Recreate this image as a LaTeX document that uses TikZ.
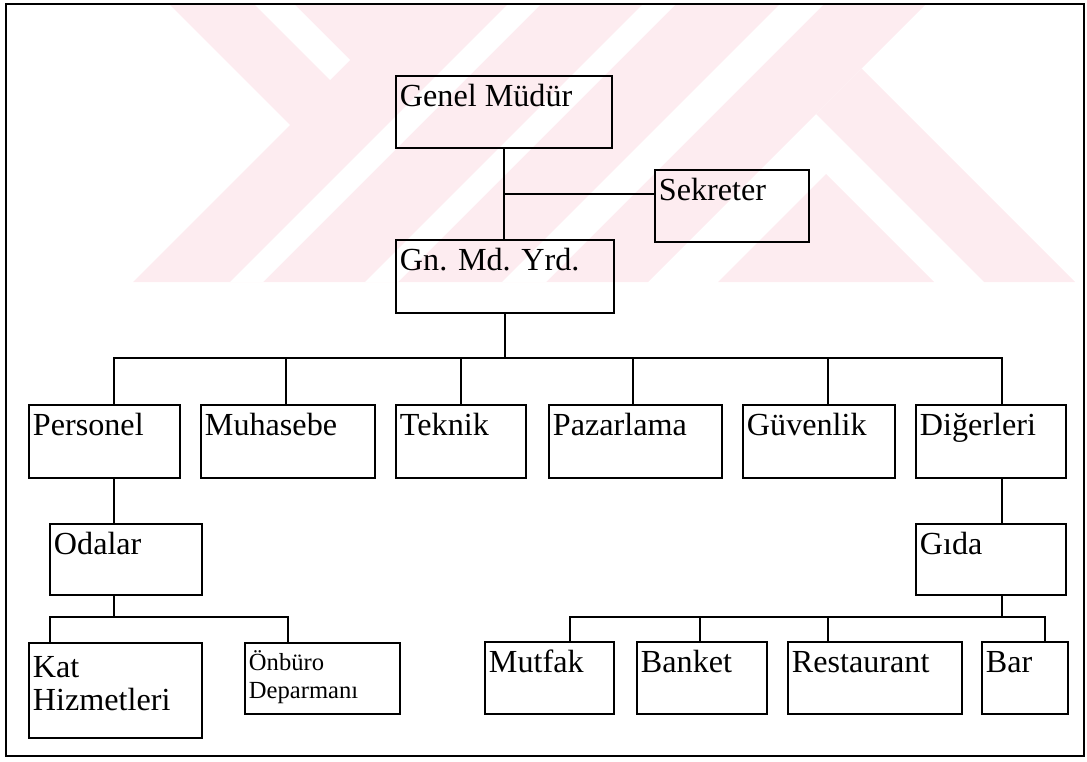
\documentclass[tikz,border=0pt]{standalone}
\usepackage{fontspec}
\setmainfont{Liberation Serif}

\definecolor{wmpink}{RGB}{253,236,240}

\tikzset{
  orgbox/.style 2 args={draw, line width=1.1pt, anchor=north west,
    inner xsep=0.08cm, inner ysep=0pt, align=flush left,
    text width=#1, text height=0.62cm, text depth=#2,
    font=\fontsize{18.3}{18.3}\selectfont},
  conn/.style={line width=1pt},
}

\begin{document}
\begin{tikzpicture}[x=0.02cm, y=-0.02cm]
\useasboundingbox (0,0) rectangle (1087,761);

% watermark behind the chart
\fill[wmpink] (169,4) -- (926,4) -- (648,282) -- (133,282) -- (290,125) -- cycle;
\fill[white] (254,4) -- (294,4) -- (350,60) -- (330,80) -- cycle;
\foreach \a/\b in {512/545, 647/680, 784/828}
  \fill[white] (\a-282,282) -- (\b-282,282) -- (\b-4,4) -- (\a-4,4) -- cycle;
\fill[wmpink] (826,174) -- (718,282) -- (934,282) -- cycle;
\fill[wmpink] (816,114) -- (861.5,68.5) -- (1075,282) -- (984,282) -- cycle;

% frame
\draw[line width=1.5pt] (6,4) rectangle (1084,756);

% Place nodes
\node[orgbox={4.16cm}{0.82cm}] (gm) at (395,75) {Genel Müdür};
\node[orgbox={2.92cm}{0.82cm}] (sek) at (654,169) {Sekreter};
\node[orgbox={4.20cm}{0.84cm}] (gmy) at (395,239) {Gn. Md. Yrd.};

\node[orgbox={2.86cm}{0.84cm}] (pers) at (28,404) {Personel};
\node[orgbox={3.32cm}{0.84cm}] (muh) at (200,404) {Muhasebe};
\node[orgbox={2.44cm}{0.84cm}] (tek) at (395,404) {Teknik};
\node[orgbox={3.30cm}{0.84cm}] (paz) at (548,404) {Pazarlama};
\node[orgbox={2.88cm}{0.84cm}] (guv) at (742,404) {Güvenlik};
\node[orgbox={2.84cm}{0.84cm}] (dig) at (915,404) {Diğerleri};

\node[orgbox={2.88cm}{0.80cm}] (oda) at (49,523) {Odalar};
\node[orgbox={2.84cm}{0.80cm}] (gida) at (915,523) {Gıda};

\node[orgbox={3.30cm}{1.20cm}, text height=0.70cm] (kat) at (28,642) {Kat\\Hizmetleri};
\node[orgbox={2.94cm}{0.86cm}, text height=0.56cm,
  font=\fontsize{14}{15.4}\selectfont] (onb) at (244,642) {Önbüro\\Deparmanı};

\node[orgbox={2.42cm}{0.82cm}] (mut) at (484,641) {Mutfak};
\node[orgbox={2.44cm}{0.82cm}] (ban) at (636,641) {Banket};
\node[orgbox={3.32cm}{0.82cm}] (res) at (787,641) {Restaurant};
\node[orgbox={1.56cm}{0.82cm}] (bar) at (981,641) {Bar};

% connectors
\coordinate (hub1) at (505,358);
\coordinate (hub2) at (114,617);
\coordinate (hub3) at (1002,617);
\coordinate (sekin) at ([yshift=0.24cm]sek.west);

\draw[conn] (gm.south) -- (gm.south |- gmy.north);
\draw[conn] (sekin) -- (gm.south |- sekin);
\draw[conn] (gmy.south) -- (gmy.south |- hub1);

\draw[conn] ([xshift=1.72cm]pers.north west) |- (hub1) -| ([xshift=1.74cm]dig.north west);
\foreach \n/\s in {muh/1.72, tek/1.32, paz/1.70, guv/1.72}
  \draw[conn] ([xshift=\s cm]\n.north west) coordinate (d) -- (d |- hub1);

\draw[conn] ([xshift=1.72cm]pers.south west) coordinate (p) -- (p |- oda.north);
\draw[conn] (hub2 |- oda.south) -- (hub2);
\draw[conn] ([xshift=0.44cm]kat.north west) |- (hub2) -| ([xshift=0.88cm]onb.north west);

\draw[conn] ([xshift=1.74cm]dig.south west) coordinate (q) -- (q |- gida.north);
\draw[conn] (hub3 |- gida.south) -- (hub3);
\draw[conn] ([xshift=1.72cm]mut.north west) |- (hub3) -| ([xshift=1.28cm]bar.north west);
\draw[conn] ([xshift=1.28cm]ban.north west) coordinate (r) -- (r |- hub3);
\draw[conn] ([xshift=0.82cm]res.north west) coordinate (r) -- (r |- hub3);

\end{tikzpicture}
\end{document}
